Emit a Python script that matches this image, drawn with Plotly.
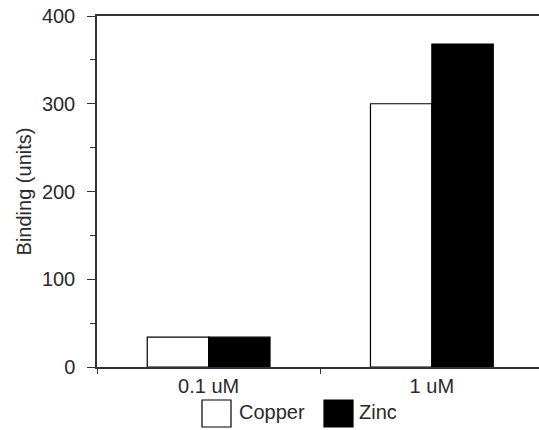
import plotly.graph_objects as go

categories = ["0.1 uM", "1 uM"]
series_names = ["Copper", "Zinc"]
copper = [34, 300]
zinc = [34, 368]
y_ticks = [0, 100, 200, 300, 400]
y_title = "Binding (units)"

W, H = 539, 430
L, R, T, B = 97, 0, 16, 63
pw, ph = W - L - R, H - T - B

def px2x(px):
    return (px - L) / pw

def py2y(py):
    return (H - B - py) / ph

fam = "Liberation Sans, Arial, sans-serif"
txt_col = "#2a2a2a"
font = dict(family=fam, size=20, color=txt_col)
axis_col = "#333"

fig = go.Figure()
fig.add_trace(go.Bar(x=categories, y=copper, name=series_names[0],
                     marker=dict(color="white", line=dict(color="black", width=1.2)),
                     showlegend=False))
fig.add_trace(go.Bar(x=categories, y=zinc, name=series_names[1],
                     marker=dict(color="black", line=dict(color="black", width=1.2)),
                     showlegend=False))

fig.update_layout(
    width=W, height=H,
    margin=dict(l=L, r=R, t=T, b=B),
    paper_bgcolor="white", plot_bgcolor="white",
    font=font,
    barmode="group", bargap=0.45, bargroupgap=0,
    xaxis=dict(type="category", range=[-0.5, 1.48], showline=True, linecolor=axis_col,
               linewidth=1.5, mirror=True, ticks="outside", tickson="boundaries",
               ticklen=5, tickcolor=axis_col, showgrid=False, zeroline=False,
               tickfont=dict(family=fam, size=20, color=txt_col)),
    yaxis=dict(range=[0, 400], tickvals=y_ticks, showline=True, linecolor=axis_col,
               linewidth=1.5, ticks="outside", ticklen=8, tickcolor=axis_col,
               ticklabelstandoff=8,
               minor=dict(dtick=50, ticks="outside", ticklen=5, tickcolor=axis_col),
               showgrid=False, zeroline=False,
               tickfont=dict(family=fam, size=20, color=txt_col),
               title=dict(text=y_title, standoff=5,
                          font=dict(family=fam, size=20, color=txt_col))),
)

# manual legend with large swatches
sw = [(202, 231, "white", series_names[0], 237), (324, 353, "black", series_names[1], 357)]
for x0, x1, col, name, tx in sw:
    fig.add_shape(type="rect", xref="paper", yref="paper",
                  x0=px2x(x0), x1=px2x(x1), y0=py2y(427), y1=py2y(400),
                  fillcolor=col, line=dict(color="black", width=1.2))
    fig.add_annotation(xref="paper", yref="paper", x=px2x(tx), y=py2y(412),
                       text=name, showarrow=False, xanchor="left", yanchor="middle",
                       font=dict(family=fam, size=20, color=txt_col))

fig.write_html("out.html")
